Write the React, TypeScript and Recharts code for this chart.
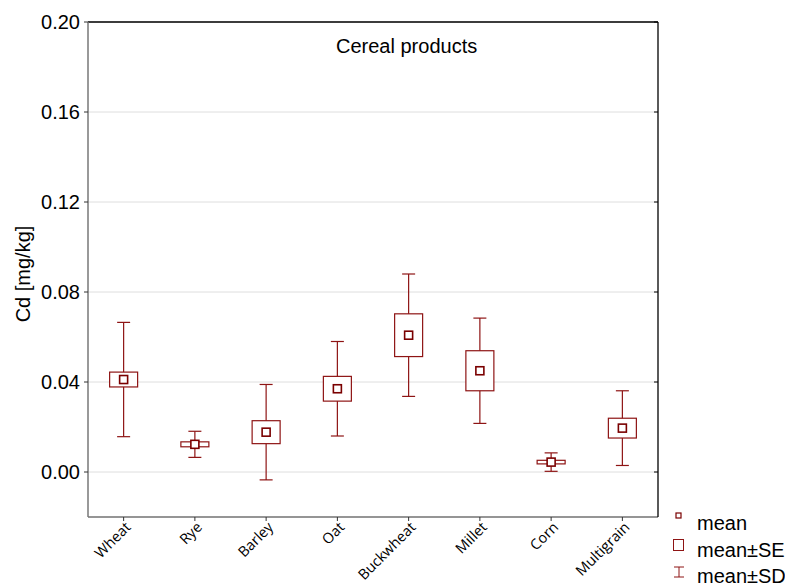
import { Bar, CartesianGrid, ComposedChart, XAxis, YAxis } from 'recharts'

/* ── Data ───────────────────────────────────────────────────────────── */

const categories = ['Wheat', 'Rye', 'Barley', 'Oat', 'Buckwheat', 'Millet', 'Corn', 'Multigrain']
const means = [0.0411, 0.0123, 0.0177, 0.037, 0.0608, 0.045, 0.0044, 0.0195]
const seValues = [0.0033, 0.0011, 0.0051, 0.0055, 0.0095, 0.0089, 0.0008, 0.0044]
const sdValues = [0.0254, 0.0058, 0.0212, 0.021, 0.0272, 0.0234, 0.0041, 0.0166]
const yTicks = [0, 0.04, 0.08, 0.12, 0.16, 0.2]

const rows = categories.map((name, i) => ({
  name,
  mean: means[i],
  se: seValues[i],
  sd: sdValues[i],
  sdRange: [means[i] - sdValues[i], means[i] + sdValues[i]],
}))

const RED = '#8e1414'
const FONT = '"Liberation Sans", Arial, sans-serif'

/* ── Box-and-whisker mark drawn inside the SD range bar ─────────────── */

function BoxWhisker(props: any) {
  const { x, y, width, height, payload } = props
  if (height == null || !payload) return null
  const cx = x + width / 2
  const top = y
  const bottom = y + height
  const k = height / (2 * payload.sd) // pixels per unit, from the bar's scale
  const cy = (top + bottom) / 2
  const seHalf = payload.se * k
  const boxW = 28
  const capW = 13
  const m = 8
  return (
    <g>
      <line x1={cx} x2={cx} y1={top} y2={bottom} stroke={RED} strokeWidth={1.2} />
      <line x1={cx - capW / 2} x2={cx + capW / 2} y1={top} y2={top} stroke={RED} strokeWidth={1.2} />
      <line x1={cx - capW / 2} x2={cx + capW / 2} y1={bottom} y2={bottom} stroke={RED} strokeWidth={1.2} />
      <rect x={cx - boxW / 2} y={cy - seHalf} width={boxW} height={seHalf * 2} fill="#fff" stroke={RED} strokeWidth={1.2} />
      <rect x={cx - m / 2} y={cy - m / 2} width={m} height={m} fill="#fff" stroke="#7a0000" strokeWidth={1.6} />
    </g>
  )
}

function XTick({ x, y, payload }: any) {
  return (
    <g transform={`translate(${x + 5},${y + 2})`}>
      <text textAnchor="end" transform="rotate(-45)" fontSize={14.5} fontFamily='"Open Sans", sans-serif' fill="#000" dy="0.3em">
        {payload.value}
      </text>
    </g>
  )
}

export default function App() {
  return (
    <div style={{ position: 'absolute', left: 0, top: 0, width: 785, height: 588, background: '#fff', fontFamily: FONT }}>
      <ComposedChart width={785} height={588} data={rows} margin={{ top: 21, right: 127, bottom: 0, left: 0 }}>
        <CartesianGrid vertical={false} stroke="#dedede" />
        <XAxis
          dataKey="name"
          height={71}
          interval={0}
          tick={<XTick />}
          tickSize={4}
          tickLine={{ stroke: '#333' }}
          axisLine={{ stroke: '#777', strokeWidth: 1.5 }}
        />
        <XAxis xAxisId="top" dataKey="name" orientation="top" height={1} tick={false} tickLine={false} axisLine={{ stroke: '#000', strokeWidth: 1.3 }} />
        <YAxis
          type="number"
          domain={[-0.02, 0.2]}
          ticks={yTicks}
          width={88}
          tickSize={4}
          tickMargin={4}
          tickFormatter={(v: number) => v.toFixed(2)}
          tick={{ fill: '#000', fontSize: 20, fontFamily: FONT }}
          tickLine={{ stroke: '#333' }}
          axisLine={{ stroke: '#777', strokeWidth: 1.5 }}
          allowDataOverflow
        />
        <YAxis
          yAxisId="right"
          orientation="right"
          type="number"
          domain={[-0.02, 0.2]}
          ticks={yTicks}
          width={1}
          mirror
          tick={() => <g />}
          tickSize={4}
          tickLine={{ stroke: '#000' }}
          axisLine={{ stroke: '#000', strokeWidth: 1.3 }}
          allowDataOverflow
        />
        <Bar dataKey="sdRange" shape={<BoxWhisker />} isAnimationActive={false} />
      </ComposedChart>

      {/* Title, axis title and legend */}
      <svg width={785} height={588} style={{ position: 'absolute', left: 0, top: 0, pointerEvents: 'none' }}>
        <text x={336} y={53} fontSize={20} fontFamily={FONT} fill="#000">
          Cereal products
        </text>
        <text x={30} y={274} fontSize={20} fontFamily={FONT} fill="#000" textAnchor="middle" transform="rotate(-90, 30, 274)">
          Cd [mg/kg]
        </text>

        <rect x={676} y={513} width={5} height={5} fill="#fff" stroke="#7a0000" strokeWidth={1.2} />
        <text x={697} y={530} fontSize={20} fontFamily={FONT} fill="#000">mean</text>

        <rect x={673.5} y={539.5} width={10} height={11} fill="#fff" stroke={RED} strokeWidth={1} />
        <text x={697} y={557} fontSize={20} fontFamily={FONT} fill="#000">mean±SE</text>

        <line x1={679} x2={679} y1={567} y2={577} stroke={RED} strokeWidth={1} />
        <line x1={674} x2={684} y1={567} y2={567} stroke={RED} strokeWidth={1} />
        <line x1={674} x2={684} y1={577} y2={577} stroke={RED} strokeWidth={1} />
        <text x={697} y={583} fontSize={20} fontFamily={FONT} fill="#000">mean±SD</text>
      </svg>
    </div>
  )
}
